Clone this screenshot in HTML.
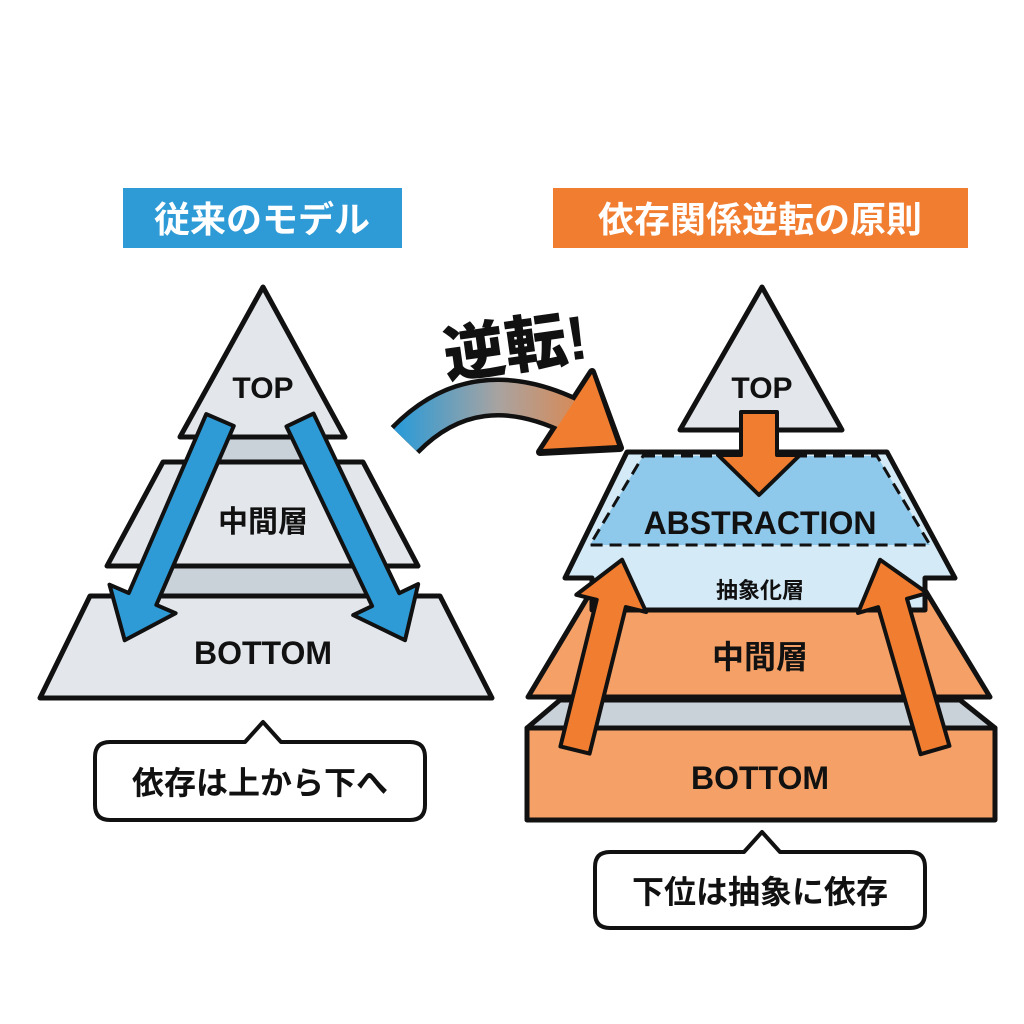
<!DOCTYPE html>
<html><head><meta charset="utf-8"><style>
html,body{margin:0;padding:0;background:#fff}
svg{display:block}
text{font-family:"Liberation Sans","Noto Sans CJK JP",sans-serif;font-weight:bold}
</style></head><body>
<svg width="1024" height="1024" viewBox="0 0 1024 1024" xmlns="http://www.w3.org/2000/svg">
<defs>
<linearGradient id="g" x1="400" y1="0" x2="620" y2="0" gradientUnits="userSpaceOnUse">
<stop offset="0" stop-color="#2e9bd6"/><stop offset="0.45" stop-color="#a9a3a0"/><stop offset="1" stop-color="#f07d30"/>
</linearGradient>
</defs>
<rect width="1024" height="1024" fill="#fff"/>
<!-- titles -->
<rect x="123" y="188" width="279" height="60" fill="#2e9bd6"/>
<text x="262" y="232" font-size="36" fill="#fff" text-anchor="middle">従来のモデル</text>
<rect x="553" y="188" width="415" height="60" fill="#f07d30"/>
<text x="760" y="232" font-size="36" fill="#fff" text-anchor="middle">依存関係逆転の原則</text>

<!-- LEFT pyramid -->
<g stroke="#111" stroke-width="5" stroke-linejoin="round">
<polygon points="263,300 160,596 365,596" fill="#c9d1d9" stroke="none"/>
<polygon points="90,596 440,596 492,698 40,698" fill="#e3e7ec"/>
<polygon points="163,462 363,462 418,566 107,566" fill="#e3e7ec"/>
<polygon points="263,287 345,437 180,437" fill="#e3e7ec"/>
</g>
<text x="263" y="398" font-size="30" text-anchor="middle" fill="#111">TOP</text>
<text x="263" y="532" font-size="30" text-anchor="middle" fill="#111">中間層</text>
<text x="263" y="664" font-size="32" text-anchor="middle" fill="#111">BOTTOM</text>
<g fill="#2e9bd6" stroke="#111" stroke-width="4" stroke-linejoin="round">
<polygon transform="translate(220,420) rotate(113.4)" points="0,-15 195,-15 195,-36 240,0 195,36 195,15 0,15"/>
<polygon transform="translate(300,420) rotate(64.5)" points="0,-15 199,-15 199,-36 244,0 199,36 199,15 0,15"/>
</g>
<!-- left bubble -->
<path d="M110,742 H245 L263,722 L281,742 H410 Q425,742 425,757 V805 Q425,820 410,820 H110 Q95,820 95,805 V757 Q95,742 110,742 Z" fill="#fff" stroke="#111" stroke-width="4" stroke-linejoin="round"/>
<text x="260" y="794" font-size="32" text-anchor="middle" fill="#111">依存は上から下へ</text>

<!-- curved arrow -->
<path d="M405,440 Q475,368 575,418" fill="none" stroke="#111" stroke-width="40"/>
<polygon points="592,372 620,448 540,452" fill="#111" stroke="#111" stroke-width="8" stroke-linejoin="round"/>
<path d="M405,440 Q475,368 575,418" fill="none" stroke="url(#g)" stroke-width="31"/>
<polygon points="592,374 617,445 543,449" fill="#f07d30"/>
<text x="515" y="368" font-size="62" text-anchor="middle" fill="#111" transform="rotate(-8 515 345)" style="font-weight:900">逆転!</text>

<!-- RIGHT pyramid -->
<g stroke="#111" stroke-width="5" stroke-linejoin="round">
<polygon points="560,700 960,700 995,728 527,728" fill="#c9d1d9"/>
<rect x="527" y="728" width="468" height="92" fill="#f4a066"/>
<polygon points="592,590 925,590 990,697 528,697" fill="#f4a066"/>
<polygon points="627,452 887,452 955,578 925,578 925,610 592,610 592,578 565,578" fill="#d4eaf7"/>
</g>
<polygon points="643,456 877,456 930,545 590,545" fill="#8ec8ea" stroke="#111" stroke-width="3" stroke-dasharray="12 7"/>
<g stroke="#111" stroke-width="5" stroke-linejoin="round">
<polygon points="762,287 842,430 680,430" fill="#e3e7ec"/>
</g>
<text x="762" y="398" font-size="30" text-anchor="middle" fill="#111">TOP</text>
<g fill="#f07d30" stroke="#111" stroke-width="4" stroke-linejoin="round">
<polygon points="741,412 777,412 777,455 800,455 759,495 718,455 741,455"/>
</g>
<text x="760" y="534" font-size="32" text-anchor="middle" fill="#111">ABSTRACTION</text>
<text x="760" y="598" font-size="22" text-anchor="middle" fill="#111">抽象化層</text>
<text x="760" y="668" font-size="32" text-anchor="middle" fill="#111">中間層</text>
<text x="760" y="789" font-size="32" text-anchor="middle" fill="#111">BOTTOM</text>
<g fill="#f07d30" stroke="#111" stroke-width="4" stroke-linejoin="round">
<polygon transform="translate(575,750) rotate(-76.1)" points="0,-15 151,-15 151,-36 196,0 151,36 151,15 0,15"/>
<polygon transform="translate(935,750) rotate(-106.1)" points="0,-15 153,-15 153,-36 198,0 153,36 153,15 0,15"/>
</g>
<!-- right bubble -->
<path d="M610,852 H744 L762,832 L780,852 H910 Q925,852 925,867 V913 Q925,928 910,928 H610 Q595,928 595,913 V867 Q595,852 610,852 Z" fill="#fff" stroke="#111" stroke-width="4" stroke-linejoin="round"/>
<text x="760" y="903" font-size="32" text-anchor="middle" fill="#111">下位は抽象に依存</text>
</svg>
</body></html>
